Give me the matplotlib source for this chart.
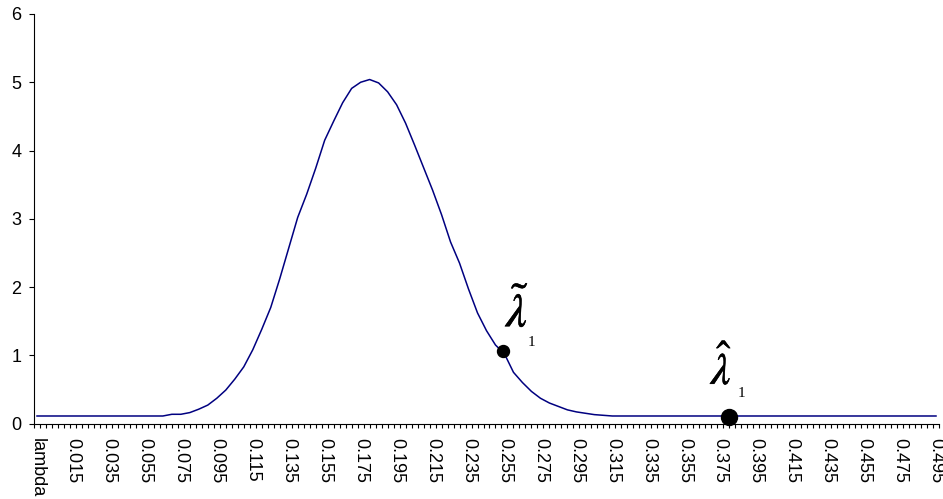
import numpy as np
import matplotlib
matplotlib.use('Agg')
import matplotlib.pyplot as plt
import matplotlib.patheffects as pe
from matplotlib.ticker import FixedLocator, MultipleLocator

plt.rcParams['font.family'] = ['Liberation Sans', 'DejaVu Sans']
plt.rcParams['mathtext.fontset'] = 'stix'

# ── data ─────────────────────────────────────────────────────────────────────
# lambda value of each point (first point sits in the "lambda" header slot)
lam = [-0.005, 0.005, 0.015, 0.025, 0.035, 0.045, 0.055, 0.065,
       0.070, 0.075, 0.080, 0.085, 0.090, 0.095, 0.100, 0.105, 0.110,
       0.115, 0.120, 0.125, 0.130, 0.135, 0.140, 0.145, 0.150, 0.155,
       0.160, 0.165, 0.170, 0.175, 0.180, 0.185, 0.190, 0.195, 0.200,
       0.205, 0.210, 0.215, 0.220, 0.225, 0.230, 0.235, 0.240, 0.245,
       0.250, 0.255, 0.260, 0.265, 0.270, 0.275, 0.280, 0.285, 0.290,
       0.295, 0.300, 0.305, 0.310, 0.315, 0.335, 0.355, 0.375, 0.395,
       0.415, 0.435, 0.455, 0.475, 0.495]
dens = [0.11, 0.11, 0.11, 0.11, 0.11, 0.11, 0.11, 0.11,
        0.135, 0.135, 0.16, 0.21, 0.27, 0.37, 0.49, 0.65, 0.83,
        1.08, 1.38, 1.70, 2.12, 2.57, 3.02, 3.36, 3.74, 4.15,
        4.43, 4.70, 4.91, 5.00, 5.04, 4.99, 4.86, 4.67, 4.40,
        4.08, 3.75, 3.42, 3.06, 2.66, 2.35, 1.97, 1.62, 1.36,
        1.15, 1.02, 0.75, 0.60, 0.47, 0.37, 0.30, 0.25, 0.20,
        0.17, 0.15, 0.13, 0.12, 0.11, 0.11, 0.11, 0.11, 0.11,
        0.11, 0.11, 0.11, 0.11, 0.11]

# the two marked estimates
lam_tilde, val_tilde = 0.254, 1.06
lam_hat, val_hat = 0.380, 0.09

tick_labels = ['lambda', '0.015', '0.035', '0.055', '0.075', '0.095',
               '0.115', '0.135', '0.155', '0.175', '0.195', '0.215',
               '0.235', '0.255', '0.275', '0.295', '0.315', '0.335',
               '0.355', '0.375', '0.395', '0.415', '0.435', '0.455',
               '0.475', '0.495']

N_CAT = 151        # category slots on the x axis
LABEL_EVERY = 6    # one label per 6 categories


def to_cat(v):
    # category index of a lambda value (0.015 -> slot 6)
    return 1.5 + 300 * np.asarray(v)


# ── chart ────────────────────────────────────────────────────────────────────
fig = plt.figure(figsize=(9.43, 4.99), dpi=100)
ax = fig.add_axes([34 / 943, 75.5 / 499, 905 / 943, 409.5 / 499])

ax.plot(to_cat(lam), dens, color='#000080', linewidth=1.1, zorder=2)
ax.plot(to_cat(lam_tilde), val_tilde, 'o', color='black', markersize=8.6,
        zorder=3, clip_on=False)
ax.plot(to_cat(lam_hat), val_hat, 'o', color='black', markersize=11.5,
        zorder=3, clip_on=False)

# labels next to the dots (slightly thickened, like the original glyphs)
thick = [pe.withStroke(linewidth=0.4, foreground='black')]
ax.annotate(r'$\tilde{\lambda}$', xy=(to_cat(lam_tilde), val_tilde),
            xytext=(10.5, 28), textcoords='offset points',
            fontsize=34, ha='center', va='center', path_effects=thick)
ax.annotate('1', xy=(to_cat(lam_tilde), val_tilde),
            xytext=(20.5, 6.5), textcoords='offset points',
            fontsize=11, ha='center', va='center', family='Liberation Serif')
ax.annotate(r'$\hat{\lambda}$', xy=(to_cat(lam_hat), val_hat),
            xytext=(-5.5, 35), textcoords='offset points',
            fontsize=32, ha='center', va='center', path_effects=thick)
ax.annotate('1', xy=(to_cat(lam_hat), val_hat),
            xytext=(8.5, 17.5), textcoords='offset points',
            fontsize=11, ha='center', va='center', family='Liberation Serif')

ax.set_xlim(-0.5, N_CAT - 0.5)
ax.set_ylim(0, 6)

ax.xaxis.set_major_locator(FixedLocator(range(0, N_CAT, LABEL_EVERY)))
ax.set_xticklabels(tick_labels, rotation=270, fontsize=13)
ax.xaxis.set_minor_locator(MultipleLocator(1, offset=0.5))
ax.tick_params(axis='x', which='major', length=0, pad=10.4)
ax.tick_params(axis='x', which='minor', length=3.2, width=0.8,
               direction='out', color='black')

ax.set_yticks(range(0, 7))
ax.tick_params(axis='y', length=3.6, width=0.8, direction='out',
               pad=5.5, labelsize=13, color='black')

for side in ['top', 'right']:
    ax.spines[side].set_visible(False)
for side in ['left', 'bottom']:
    ax.spines[side].set_color('black')
    ax.spines[side].set_linewidth(0.8)

plt.savefig('out.png', dpi=100, facecolor='white')
